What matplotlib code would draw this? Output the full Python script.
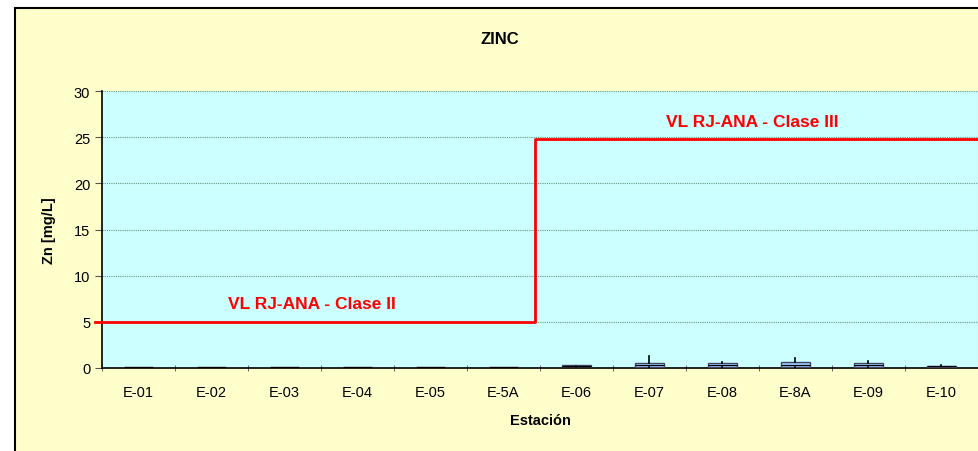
import matplotlib
matplotlib.use("Agg")
import matplotlib.pyplot as plt
from matplotlib.patches import Rectangle
import numpy as np

plt.rcParams["font.family"] = ["Liberation Sans", "DejaVu Sans"]

stations = ["E-01", "E-02", "E-03", "E-04", "E-05", "E-5A",
            "E-06", "E-07", "E-08", "E-8A", "E-09", "E-10"]
q1 = [0.03, 0.03, 0.03, 0.03, 0.03, 0.03, 0.20, 0.10, 0.10, 0.15, 0.10, 0.15]
med = [0.06, 0.06, 0.06, 0.06, 0.06, 0.06, 0.25, 0.30, 0.30, 0.35, 0.30, 0.20]
q3 = [0.10, 0.10, 0.10, 0.10, 0.10, 0.10, 0.30, 0.55, 0.50, 0.65, 0.50, 0.25]
whis_lo = [0.01, 0.01, 0.01, 0.01, 0.01, 0.01, 0.15, 0.05, 0.05, 0.05, 0.05, 0.10]
whis_hi = [0.12, 0.12, 0.12, 0.12, 0.12, 0.12, 0.35, 1.30, 0.65, 1.10, 0.75, 0.32]

# guideline values (RJ-ANA), step between E-5A and E-06
limit_x = [-0.6, 5.43, 5.43, 11.5]
limit_y = [4.95, 4.95, 24.8, 24.8]

fig = plt.figure(figsize=(9.79, 4.52), dpi=100)
fig.patch.set_facecolor("white")
bg = Rectangle((15 / 979, -0.01), 1.0, 1 - 9 / 452 + 0.01,
               transform=fig.transFigure, facecolor="#FFFFCC",
               edgecolor="black", linewidth=1.5, zorder=-10)
fig.add_artist(bg)

ax = fig.add_axes([102 / 979, 1 - 369 / 452, 876 / 979, 277 / 452])
ax.set_facecolor("#CCFFFF")

x = np.arange(len(stations))
stats = []
for i in range(len(stations)):
    stats.append(dict(q1=q1[i], med=med[i], q3=q3[i],
                      whislo=whis_lo[i], whishi=whis_hi[i], fliers=[]))
ax.bxp(stats, positions=x, widths=0.41, patch_artist=True, showcaps=False,
       boxprops=dict(facecolor="#99CCFF", edgecolor="#444466", linewidth=1.0),
       medianprops=dict(color="black", linewidth=0.8),
       whiskerprops=dict(color="black", linewidth=1.2), zorder=3)

ax.plot(limit_x, limit_y, color="#FF0000", linewidth=2, clip_on=False, zorder=4)
ax.text(2.37, 7.0, "VL RJ-ANA - Clase II", color="#FF0000", fontsize=12.5,
        fontweight="bold", ha="center", va="center")
ax.text(8.41, 26.75, "VL RJ-ANA - Clase III", color="#FF0000", fontsize=12.5,
        fontweight="bold", ha="center", va="center")

ax.set_xlim(-0.5, 11.5)
ax.set_ylim(0, 30)
ax.set_yticks(np.arange(0, 31, 5))
ax.set_xticks(x)
ax.set_xticklabels(stations)
ax.set_xticks(np.arange(-0.5, 12, 1), minor=True)
ax.tick_params(axis="x", which="major", length=0, labelsize=10.5, pad=12)
ax.tick_params(axis="x", which="minor", length=4, direction="inout", color="#555555")
ax.tick_params(axis="y", labelsize=10.5, length=5, color="#555555")
ax.grid(axis="y", color="#669988", linestyle=(0, (1, 1)), linewidth=0.8)
ax.set_axisbelow(True)

ax.spines["top"].set_visible(False)
ax.spines["right"].set_color("#999999")
ax.spines["left"].set_linewidth(1.2)
ax.spines["bottom"].set_linewidth(1.2)

ax.set_xlabel("Estación", fontsize=10.5, fontweight="bold", labelpad=10)
ax.set_ylabel("Zn [mg/L]", fontsize=10.5, fontweight="bold", labelpad=13)
fig.text(500 / 979, 1 - 40 / 452, "ZINC", fontsize=12, fontweight="bold",
         ha="center", va="center")

plt.savefig("out.png", dpi=100)
plt.close()
